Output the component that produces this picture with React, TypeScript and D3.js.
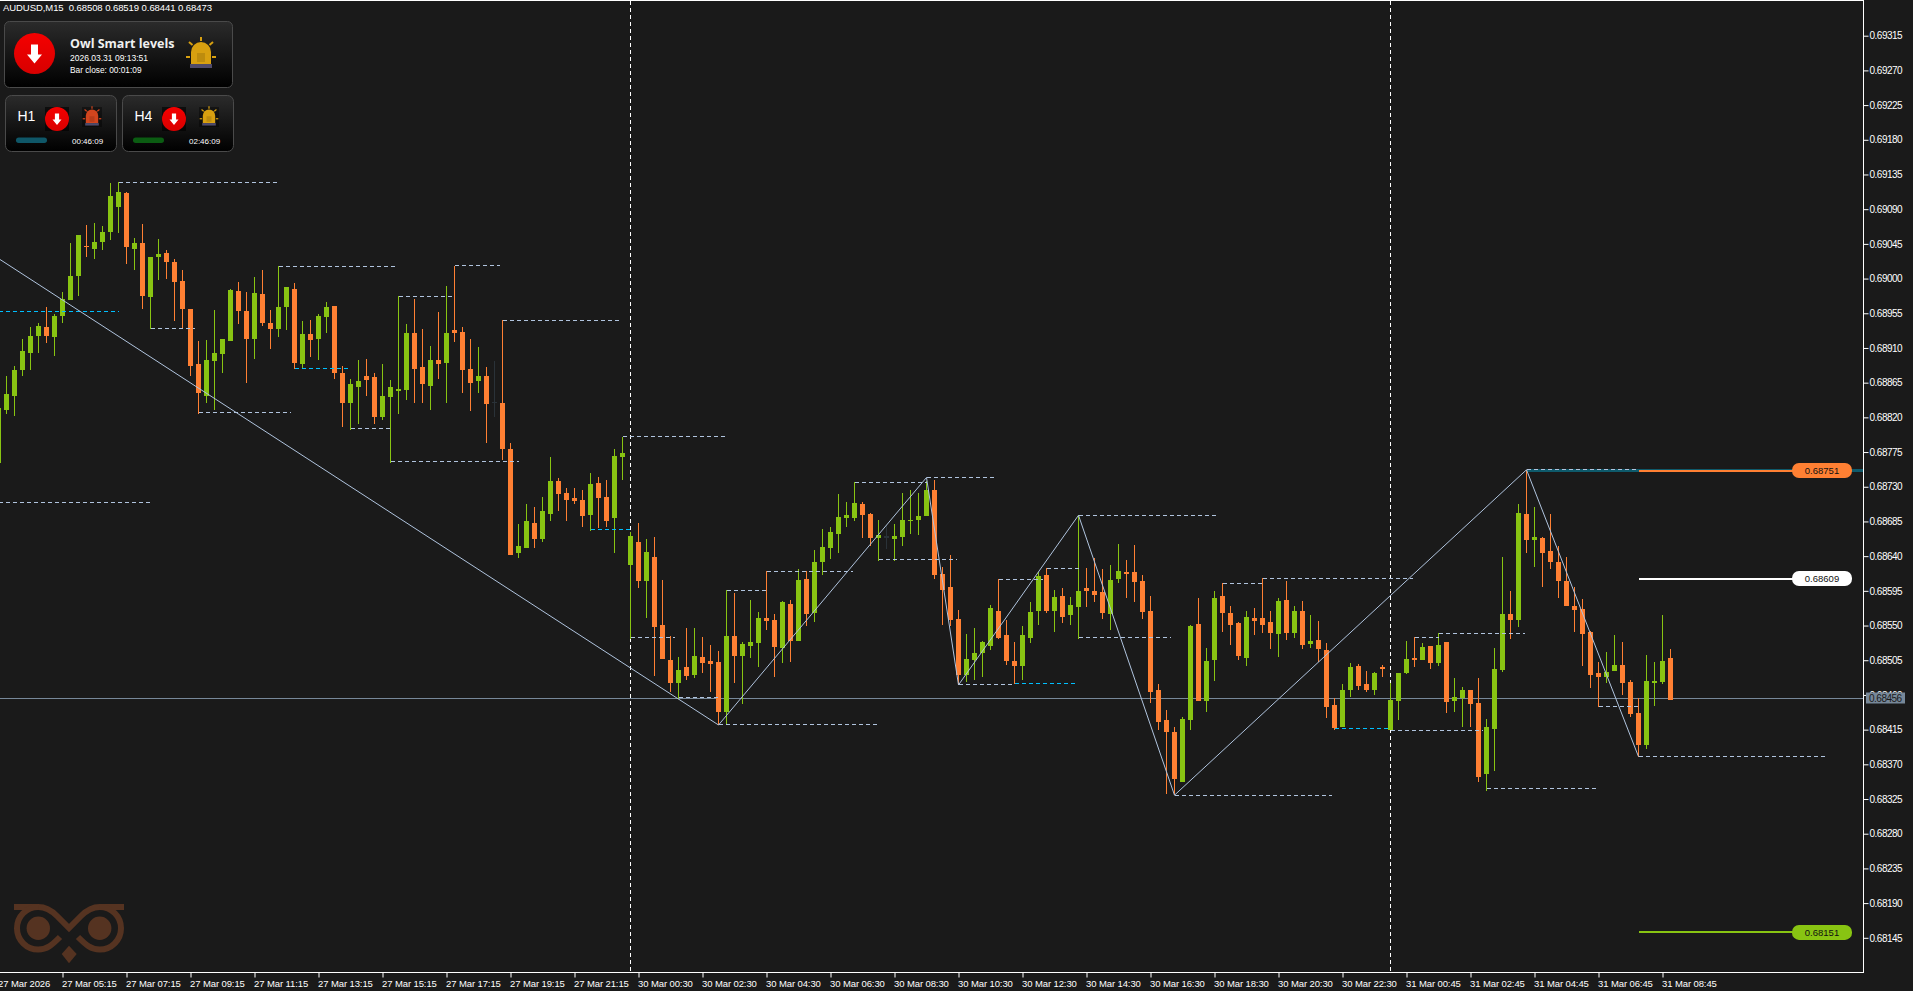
// @ts-nocheck
import React, { useEffect, useRef } from 'react';
import * as d3 from 'd3';

// all prices are in points, 1 point = 0.00001
const opens = [
  68761, 68830, 68848, 68882, 68903, 68925, 68937, 68924, 68951, 68972,
  69003, 69042, 69038, 69047, 69060, 69093, 69111, 69039, 69046, 68976,
  69028, 69033, 69021, 68997, 68961, 68889, 68848, 68893, 68902, 68919,
  68984, 68958, 68922, 68980, 68943, 68934, 68963, 68987, 68889, 68928,
  68921, 68950, 68965, 68877, 68839, 68860, 68873, 68872, 68821, 68846,
  68854, 68856, 68929, 68885, 68861, 68895, 68890, 68933, 68931, 68883,
  68867, 68874, 68840, 68838, 68779, 68644, 68651, 68683, 68662, 68695,
  68738, 68722, 68715, 68713, 68694, 68735, 68717, 68689, 68768, 68629,
  68658, 68608, 68639, 68551, 68505, 68475, 68496, 68486, 68509, 68504,
  68503, 68438, 68536, 68510, 68523, 68527, 68560, 68557, 68521, 68578,
  68530, 68610, 68566, 68633, 68651, 68669, 68690, 68690, 68708, 68695,
  68664, 68666, 68662, 68665, 68686, 68687, 68692, 68726, 68617, 68600,
  68558, 68486, 68505, 68514, 68523, 68569, 68538, 68504, 68497, 68534,
  68569, 68616, 68569, 68588, 68564, 68574, 68599, 68595, 68593, 68565,
  68610, 68619, 68619, 68608, 68569, 68466, 68427, 68412, 68347, 68427,
  68552, 68452, 68505, 68588, 68566, 68553, 68508, 68560, 68560, 68555,
  68539, 68583, 68540, 68569, 68526, 68531, 68518, 68447, 68418, 68466,
  68497, 68474, 68466, 68496, 68414, 68452, 68488, 68508, 68505, 68523,
  68501, 68529, 68452, 68456, 68467, 68449, 68357, 68416, 68492, 68565,
  68557, 68695, 68661, 68664, 68647, 68632, 68608, 68575, 68571, 68542,
  68488, 68483, 68491, 68499, 68477, 68436, 68395, 68475, 68477, 68508,
];
const closes = [
  68832, 68850, 68882, 68906, 68925, 68938, 68925, 68951, 68974, 69003,
  69056, 69041, 69047, 69060, 69107, 69112, 69041, 69046, 68977, 69028,
  69032, 69021, 68995, 68961, 68886, 68852, 68895, 68903, 68922, 68985,
  68958, 68922, 68981, 68942, 68935, 68963, 68989, 68891, 68928, 68920,
  68952, 68963, 68878, 68839, 68863, 68867, 68869, 68820, 68848, 68859,
  68857, 68930, 68883, 68863, 68894, 68889, 68929, 68930, 68882, 68865,
  68874, 68837, 68838, 68779, 68642, 68653, 68685, 68662, 68698, 68737,
  68721, 68713, 68711, 68692, 68734, 68716, 68686, 68770, 68774, 68666,
  68608, 68646, 68548, 68507, 68475, 68492, 68484, 68510, 68501, 68500,
  68438, 68536, 68510, 68526, 68529, 68560, 68556, 68522, 68581, 68530,
  68609, 68565, 68633, 68652, 68671, 68691, 68694, 68709, 68694, 68664,
  68668, 68664, 68666, 68687, 68687, 68692, 68726, 68616, 68596, 68557,
  68486, 68506, 68514, 68529, 68573, 68534, 68504, 68497, 68538, 68568,
  68614, 68569, 68587, 68561, 68577, 68595, 68595, 68590, 68566, 68609,
  68621, 68617, 68606, 68568, 68464, 68425, 68412, 68351, 68429, 68549,
  68452, 68504, 68586, 68566, 68551, 68510, 68561, 68556, 68551, 68540,
  68582, 68540, 68569, 68525, 68530, 68519, 68444, 68417, 68467, 68496,
  68471, 68466, 68488, 68493, 68453, 68488, 68506, 68505, 68522, 68501,
  68525, 68451, 68457, 68467, 68448, 68354, 68418, 68493, 68565, 68557,
  68696, 68661, 68665, 68644, 68632, 68608, 68575, 68570, 68539, 68486,
  68483, 68490, 68499, 68475, 68435, 68395, 68478, 68478, 68504, 68454,
];
const highs = [
  68832, 68873, 68887, 68921, 68937, 68942, 68963, 68954, 68982, 69046,
  69056, 69069, 69072, 69068, 69124, 69125, 69112, 69052, 69071, 69028,
  69051, 69037, 69025, 69011, 68961, 68919, 68920, 68959, 68922, 68987,
  68995, 68982, 69002, 69011, 68959, 69016, 68989, 68994, 68945, 68946,
  68954, 68969, 68965, 68886, 68870, 68894, 68896, 68877, 68889, 68869,
  68977, 68941, 68973, 68935, 68912, 68956, 68990, 69016, 68937, 68921,
  68911, 68885, 68893, 68946, 68787, 68682, 68707, 68704, 68717, 68768,
  68741, 68729, 68729, 68726, 68748, 68742, 68739, 68779, 68795, 68671,
  68683, 68662, 68665, 68609, 68536, 68509, 68547, 68547, 68535, 68525,
  68517, 68596, 68592, 68529, 68583, 68568, 68621, 68565, 68582, 68583,
  68623, 68621, 68648, 68675, 68678, 68720, 68710, 68736, 68710, 68696,
  68687, 68681, 68682, 68722, 68726, 68722, 68738, 68739, 68626, 68642,
  68570, 68539, 68547, 68530, 68577, 68610, 68557, 68529, 68549, 68581,
  68619, 68624, 68596, 68599, 68587, 68693, 68625, 68638, 68623, 68629,
  68656, 68635, 68655, 68616, 68588, 68474, 68440, 68419, 68432, 68551,
  68586, 68521, 68595, 68605, 68575, 68555, 68569, 68573, 68612, 68569,
  68586, 68608, 68575, 68582, 68564, 68556, 68527, 68456, 68474, 68501,
  68500, 68491, 68490, 68499, 68475, 68488, 68530, 68535, 68527, 68523,
  68540, 68529, 68482, 68470, 68467, 68482, 68429, 68521, 68639, 68595,
  68708, 68752, 68704, 68665, 68695, 68653, 68639, 68600, 68584, 68543,
  68503, 68516, 68538, 68529, 68480, 68456, 68512, 68503, 68564, 68519,
];
const lows = [
  68761, 68824, 68822, 68874, 68881, 68903, 68917, 68899, 68942, 68972,
  68977, 69028, 69025, 69037, 69050, 69059, 69019, 69011, 68960, 68934,
  68998, 69000, 68945, 68934, 68874, 68824, 68839, 68830, 68877, 68919,
  68941, 68864, 68896, 68938, 68909, 68924, 68933, 68883, 68883, 68898,
  68894, 68929, 68870, 68808, 68804, 68812, 68848, 68811, 68816, 68761,
  68825, 68843, 68839, 68839, 68830, 68870, 68839, 68918, 68852, 68828,
  68852, 68787, 68821, 68765, 68642, 68638, 68651, 68651, 68658, 68686,
  68699, 68686, 68708, 68678, 68673, 68677, 68678, 68644, 68739, 68533,
  68599, 68560, 68484, 68507, 68464, 68455, 68479, 68482, 68488, 68464,
  68421, 68422, 68475, 68448, 68508, 68496, 68544, 68483, 68501, 68503,
  68530, 68549, 68555, 68616, 68636, 68644, 68678, 68686, 68664, 68653,
  68634, 68649, 68634, 68653, 68669, 68668, 68692, 68610, 68551, 68549,
  68473, 68477, 68479, 68483, 68518, 68532, 68499, 68474, 68480, 68527,
  68551, 68566, 68542, 68553, 68551, 68532, 68574, 68581, 68558, 68544,
  68605, 68586, 68581, 68558, 68449, 68414, 68331, 68330, 68347, 68414,
  68452, 68438, 68478, 68542, 68525, 68505, 68497, 68538, 68540, 68519,
  68509, 68531, 68534, 68519, 68521, 68503, 68430, 68414, 68418, 68457,
  68467, 68464, 68460, 68483, 68414, 68427, 68487, 68496, 68505, 68493,
  68497, 68436, 68438, 68418, 68419, 68347, 68336, 68361, 68490, 68532,
  68548, 68644, 68626, 68600, 68623, 68586, 68575, 68542, 68497, 68469,
  68444, 68475, 68491, 68460, 68431, 68379, 68390, 68445, 68474, 68453,
];
// bars drawn in the chart's dark "no volume" colour
const mutedBars = [62, 111];

// zigzag turning points
const zigzagBars = [0, 90, 116, 120, 135, 147, 191, 205];
const zigzagPrices = [69026, 68421, 68742, 68473, 68693, 68330, 68752, 68380];

// dashed swing levels: first bar, last bar, price
const steelStart = [0, 15, 19, 25, 35, 44, 49, 50, 57, 63, 78, 79, 85, 90, 91, 96, 107, 116, 110, 120, 125, 131, 135, 135, 147, 153, 158, 174, 177, 180, 186, 200, 205, 191];
const steelEnd = [19, 34.8, 24.5, 36.6, 49.6, 49, 65, 57, 62.7, 77.6, 90.9, 84.6, 90, 109.8, 96, 106.8, 116, 124.6, 119.8, 127, 130.6, 135, 152.6, 146.6, 166.7, 158, 176.8, 185.6, 180, 190.8, 199.8, 205, 228.6, 205];
const steelPrice = [68710, 69125, 68935, 68826, 69016, 68805, 68763, 68977, 69017, 68945, 68795, 68535, 68457, 68422, 68596, 68620, 68736, 68742, 68636, 68474, 68610, 68624, 68693, 68535, 68330, 68605, 68611, 68414, 68535, 68540, 68338, 68445, 68380, 68752];
const cyanStart = [0, 37, 74, 127, 167];
const cyanEnd = [15, 44, 79, 134.8, 174];
const cyanPrice = [68957, 68884, 68675, 68475, 68416];

// day separators
const separatorBars = [79, 174];

// right hand target lines
const targetPrices = [68751, 68611, 68152];
const targetLabels = ['0.68751', '0.68609', '0.68151'];
const targetColors = ['#ff8033', '#ffffff', '#88c412'];
const lastPrice = 68456;

const priceTicks = [
  69315, 69270, 69225, 69180, 69135, 69090, 69045, 69000, 68955, 68910, 68865, 68820, 68775, 68730,
  68685, 68640, 68595, 68550, 68505, 68460, 68415, 68370, 68325, 68280, 68235, 68190, 68145,
];
const timeTickBars = [0, 8, 16, 24, 32, 40, 48, 56, 64, 72, 80, 88, 96, 104, 112, 120, 128, 136, 144, 152, 160, 168, 176, 184, 192, 200, 208];
const timeLabels = [
  '27 Mar 2026', '27 Mar 05:15', '27 Mar 07:15', '27 Mar 09:15', '27 Mar 11:15', '27 Mar 13:15', '27 Mar 15:15',
  '27 Mar 17:15', '27 Mar 19:15', '27 Mar 21:15', '30 Mar 00:30', '30 Mar 02:30', '30 Mar 04:30', '30 Mar 06:30',
  '30 Mar 08:30', '30 Mar 10:30', '30 Mar 12:30', '30 Mar 14:30', '30 Mar 16:30', '30 Mar 18:30', '30 Mar 20:30',
  '30 Mar 22:30', '31 Mar 00:45', '31 Mar 02:45', '31 Mar 04:45', '31 Mar 06:45', '31 Mar 08:45',
];

const BG = '#1a1a1a';
const UP = '#88c412';
const DOWN = '#ff8033';
const MUTED = '#2a3238';
const STEEL = '#b0c4de';
const CYAN = '#00bfff';
const TEAL = '#0e5a6b';
const SLATE = '#778899';
const FONT = '"Liberation Sans", Arial, sans-serif';

const RIGHT = 1863;
const BOTTOM = 972.5;

const Arrow = ({ cx, cy, s }) => (
  <path
    d={`M${cx - 3.5 * s},${cy - 9 * s} h${7 * s} v${10 * s} h${4 * s} L${cx},${cy + 10 * s} L${cx - 7.5 * s},${cy + 1 * s} h${4 * s} Z`}
    fill="#fff"
  />
);

const Siren = ({ cx, cy, s, color }) => (
  <g transform={`translate(${cx},${cy}) scale(${s})`}>
    <path d="M-10,9 V-3 A10,10 0 0 1 10,-3 V9 Z" fill={color} />
    <rect x={-4} y={-2} width={8} height={9} fill="#000" opacity={0.12} />
    <rect x={-11} y={9} width={22} height={4} fill="#4f4b6b" />
    <g stroke={color} strokeWidth={2}>
      <line x1={0} y1={-18} x2={0} y2={-14} />
      <line x1={-12} y1={-13} x2={-8.5} y2={-10} />
      <line x1={12} y1={-13} x2={8.5} y2={-10} />
      <line x1={-15} y1={2} x2={-11} y2={2} />
      <line x1={15} y1={2} x2={11} y2={2} />
    </g>
  </g>
);

const SmallPanel = ({ x, label, barColor, sirenColor, time }) => (
  <g>
    <rect x={x + 0.5} y={95.5} width={111} height={56} rx={6} fill="url(#panelFill)" stroke="#4a4a4a" />
    <text x={x + 12.5} y={121} fill="#fff" fontFamily={FONT} fontSize={14}>{label}</text>
    <rect x={x + 40} y={107} width={24} height={24} fill="#000" opacity={0.6} />
    <circle cx={x + 52} cy={119} r={12} fill="url(#redFill)" />
    <Arrow cx={x + 52} cy={119} s={0.6} />
    <rect x={x + 77} y={107} width={20} height={20} fill="#000" opacity={0.4} />
    <Siren cx={x + 87} cy={117.5} s={0.62} color={sirenColor} />
    <rect x={x + 11} y={137.5} width={31} height={5.5} rx={2.7} fill={barColor} />
    <text x={x + 67} y={143.5} fill="#fff" fontFamily={FONT} fontSize={8}>{time}</text>
  </g>
);

const Hud = () => (
  <g>
    <defs>
      <linearGradient id="panelFill" x1="0" y1="0" x2="0" y2="1">
        <stop offset="0" stopColor="#2b2b2b" />
        <stop offset="1" stopColor="#000" />
      </linearGradient>
      <linearGradient id="redFill" x1="0" y1="0" x2="0" y2="1">
        <stop offset="0" stopColor="#f50000" />
        <stop offset="1" stopColor="#d80000" />
      </linearGradient>
    </defs>
    <text x={3} y={11} fill="#fff" fontFamily={FONT} fontSize={9.5} xmlSpace="preserve" textLength={209} lengthAdjust="spacing">AUDUSD,M15  0.68508 0.68519 0.68441 0.68473</text>
    <rect x={4.5} y={21.5} width={228} height={66} rx={5} fill="url(#panelFill)" stroke="#4a4a4a" />
    <circle cx={34.5} cy={53.5} r={20.5} fill="url(#redFill)" />
    <Arrow cx={34.5} cy={53.5} s={1} />
    <text x={70} y={48} fill="#f0f0f0" fontFamily='"Open Sans", sans-serif' fontWeight={700} fontSize={12.5}>Owl Smart levels</text>
    <text x={70} y={60.5} fill="#fff" fontFamily={FONT} fontSize={8.5}>2026.03.31 09:13:51</text>
    <text x={70} y={73} fill="#fff" fontFamily={FONT} fontSize={8.3}>Bar close: 00:01:09</text>
    <Siren cx={201} cy={55} s={1} color="#d8a010" />
    <SmallPanel x={5} label="H1" barColor="#0f5768" sirenColor="#d2451e" time="00:46:09" />
    <SmallPanel x={122} label="H4" barColor="#0b5c12" sirenColor="#d8a010" time="02:46:09" />
    <g fill="none" stroke="#553321" strokeWidth={6}>
      <path d="M14,907 H38.3 C47,907 52,911 57,916 L69,928 L81,916 C86,911 91,907 99.7,907 H124" />
      <path d="M38.3,907 A21.3,21.3 0 1 0 38.3,949.6 C47,949.6 52,945 60,937" />
      <path d="M99.7,907 A21.3,21.3 0 1 1 99.7,949.6 C91,949.6 86,945 78,937" />
    </g>
    <circle cx={38.3} cy={928.3} r={11.7} fill="#553321" />
    <circle cx={99.7} cy={928.3} r={11.7} fill="#553321" />
    <path d="M69,945.7 L76.7,954 L69,963.3 L61.7,954 Z" fill="#553321" />
  </g>
);

const App: React.FC = () => {
  const chartRef = useRef<SVGGElement | null>(null);

  useEffect(() => {
    const root = d3.select(chartRef.current);
    root.selectAll('*').remove();

    const x = d3.scaleLinear().domain([0, 209]).range([-1.5, 1670.5]);
    const y = d3.scaleLinear().domain([68100, 69360]).range([BOTTOM, 1]);
    const bars = d3.range(opens.length);
    const barColor = (i: number) => (mutedBars.includes(i) ? MUTED : closes[i] >= opens[i] ? UP : DOWN);

    // separators sit behind the bars
    root.selectAll('.sep')
      .data(separatorBars)
      .enter()
      .append('line')
      .attr('x1', (d) => x(d))
      .attr('x2', (d) => x(d))
      .attr('y1', 1)
      .attr('y2', BOTTOM)
      .attr('stroke', '#fff')
      .attr('stroke-dasharray', '4 3');

    // last price line
    root.append('line')
      .attr('x1', 0)
      .attr('x2', RIGHT)
      .attr('y1', Math.round(y(lastPrice)) + 0.5)
      .attr('y2', Math.round(y(lastPrice)) + 0.5)
      .attr('stroke', SLATE);

    // candles
    const candles = root.append('g').attr('shape-rendering', 'crispEdges');
    candles.selectAll('line')
      .data(bars)
      .enter()
      .append('line')
      .attr('x1', (i) => x(i))
      .attr('x2', (i) => x(i))
      .attr('y1', (i) => y(highs[i]))
      .attr('y2', (i) => y(lows[i]))
      .attr('stroke', barColor);
    candles.selectAll('rect')
      .data(bars)
      .enter()
      .append('rect')
      .attr('x', (i) => x(i) - 2.5)
      .attr('width', 5)
      .attr('y', (i) => y(Math.max(opens[i], closes[i])))
      .attr('height', (i) => Math.max(1, Math.abs(y(opens[i]) - y(closes[i]))))
      .attr('fill', barColor);

    // thick teal level under the newest swing high
    root.append('line')
      .attr('x1', x(191))
      .attr('x2', RIGHT)
      .attr('y1', y(targetPrices[0]))
      .attr('y2', y(targetPrices[0]))
      .attr('stroke', TEAL)
      .attr('stroke-width', 3)
      .attr('shape-rendering', 'crispEdges');

    // dashed levels
    const levels = root.append('g').attr('shape-rendering', 'crispEdges').attr('stroke-dasharray', '4 3');
    levels.selectAll('.steel')
      .data(steelPrice)
      .enter()
      .append('line')
      .attr('x1', (_, i) => x(steelStart[i]))
      .attr('x2', (_, i) => x(steelEnd[i]))
      .attr('y1', (d) => y(d))
      .attr('y2', (d) => y(d))
      .attr('stroke', STEEL);
    levels.selectAll('.cyan')
      .data(cyanPrice)
      .enter()
      .append('line')
      .attr('x1', (_, i) => x(cyanStart[i]))
      .attr('x2', (_, i) => x(cyanEnd[i]))
      .attr('y1', (d) => y(d))
      .attr('y2', (d) => y(d))
      .attr('stroke', CYAN);

    // zigzag
    const zigzag = d3.line<number>()
      .x((d) => x(d))
      .y((_, i) => y(zigzagPrices[i]));
    root.append('path')
      .attr('d', zigzag(zigzagBars))
      .attr('fill', 'none')
      .attr('stroke', STEEL)
      .attr('stroke-width', 1);

    // target lines with their pills
    const targetFrom = x(205);
    const pillX = 1792;
    const targets = root.selectAll('.target').data(targetPrices).enter().append('g');
    targets.append('line')
      .attr('x1', targetFrom)
      .attr('x2', pillX + 4)
      .attr('y1', (d) => y(d))
      .attr('y2', (d) => y(d))
      .attr('stroke', (_, i) => targetColors[i])
      .attr('stroke-width', 2)
      .attr('shape-rendering', 'crispEdges');
    targets.append('rect')
      .attr('x', pillX)
      .attr('y', (d) => y(d) - 7.5)
      .attr('width', 60)
      .attr('height', 15)
      .attr('rx', 7)
      .attr('fill', (_, i) => targetColors[i]);
    targets.append('text')
      .attr('x', pillX + 30)
      .attr('y', (d) => y(d) + 3.5)
      .attr('text-anchor', 'middle')
      .attr('font-family', FONT)
      .attr('font-size', 9.5)
      .attr('fill', '#111')
      .text((_, i) => targetLabels[i]);

    // axes
    const yAxis = root.append('g')
      .attr('transform', `translate(${RIGHT + 0.5},0)`)
      .call(
        d3.axisRight(y)
          .tickValues(priceTicks)
          .tickSize(5)
          .tickPadding(1)
          .tickFormat((d) => (d / 100000).toFixed(5)),
      );
    yAxis.select('.domain').remove();
    yAxis.selectAll('line').attr('stroke', '#fff');
    yAxis.selectAll('text')
      .attr('fill', '#fff')
      .attr('font-family', FONT)
      .attr('font-size', 10)
      .attr('letter-spacing', -0.5);

    const xAxis = root.append('g')
      .attr('transform', `translate(0,${BOTTOM})`)
      .call(
        d3.axisBottom(x)
          .tickValues(timeTickBars)
          .tickSize(5)
          .tickPadding(3)
          .tickFormat((_, i) => timeLabels[i]),
      );
    xAxis.select('.domain').remove();
    xAxis.selectAll('line').attr('stroke', '#fff');
    xAxis.selectAll('text')
      .attr('fill', '#fff')
      .attr('font-family', FONT)
      .attr('font-size', 9.5)
      .attr('letter-spacing', -0.1)
      .attr('dx', -1)
      .attr('text-anchor', 'start');

    // chart frame
    root.append('path')
      .attr('d', `M0,0.5 H${RIGHT + 0.5} V${BOTTOM} H0`)
      .attr('fill', 'none')
      .attr('stroke', '#fff')
      .attr('shape-rendering', 'crispEdges');

    // current price tag over the axis
    root.append('rect')
      .attr('x', 1866)
      .attr('y', y(lastPrice) - 5.5)
      .attr('width', 39)
      .attr('height', 11)
      .attr('fill', SLATE);
    root.append('text')
      .attr('x', 1869)
      .attr('y', y(lastPrice) + 3.5)
      .attr('font-family', FONT)
      .attr('font-size', 10)
      .attr('letter-spacing', -0.5)
      .attr('fill', '#1a1a1a')
      .text((lastPrice / 100000).toFixed(5));
  }, []);

  return (
    <svg
      width={1913}
      height={991}
      style={{ position: 'absolute', left: 0, top: 0, display: 'block', background: BG }}
    >
      <g ref={chartRef} />
      <Hud />
    </svg>
  );
};

export default App;
